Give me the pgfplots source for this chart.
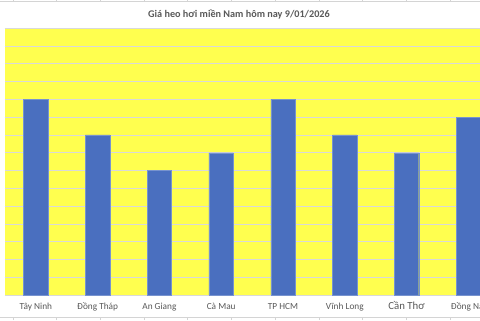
\documentclass[border=0pt]{standalone}
\usepackage{pgfplots}
\pgfplotsset{compat=1.18}
\usepackage{fontspec}
\setmainfont{Carlito}
\definecolor{plotyellow}{HTML}{FFFF4F}
\definecolor{barblue}{HTML}{4A6FBF}
\definecolor{gridgray}{HTML}{D9D9D9}
\definecolor{textgray}{HTML}{595959}
\definecolor{cellgray}{HTML}{D4D4D4}
\begin{document}
\begin{tikzpicture}[x=1bp,y=1bp]
\clip (0,0) rectangle (480,320);
\fill[white] (0,0) rectangle (480,320);
% worksheet cell borders around the chart object
\draw[cellgray, line width=0.6bp] (0,318.3) -- (480,318.3);
\draw[cellgray, line width=0.6bp] (0,2.7) -- (480,2.7);
\foreach \cx in {13.3,56.7,100,144,187.7,231.7,275.3,319,362.7,406.7,450}{
  \draw[cellgray, line width=0.6bp] (\cx,318.3) -- (\cx,320);
  \draw[cellgray, line width=0.6bp] (\cx,0) -- (\cx,2.7);
}
\node[text=textgray, font=\fontsize{10.2bp}{12bp}\selectfont\bfseries] at (239,305.5) {Giá heo hơi miền Nam hôm nay 9/01/2026};
\begin{axis}[
  at={(5bp,25bp)}, anchor=south west,
  scale only axis, width=475bp, height=266.7bp,
  xmin=-0.5, xmax=7.19,
  ymin=55, ymax=70,
  ytick={55,56,...,70}, yticklabels={},
  xtick={0,...,7},
  xticklabels={Tây Ninh, Đồng Tháp, An Giang, Cà Mau, TP HCM, Vĩnh Long, {\fontsize{10.8bp}{12bp}\selectfont Cần Thơ}, Đồng Nai},
  major tick length=0pt,
  ymajorgrids, grid style={gridgray, line width=0.75bp},
  axis line style={draw=none},
  axis background/.style={fill=plotyellow},
  xticklabel style={text=textgray, font=\fontsize{9.3bp}{11bp}\selectfont, anchor=center, text height=1.6ex, text depth=0.4ex, yshift=-11.4bp},
  ybar, bar width=24.4bp,
  clip=true,
]
\addplot[fill=barblue, draw=barblue!75!white, line width=0.4bp] coordinates {
  (0,66) (1,64) (2,62) (3,63) (4,66) (5,64) (6,63) (7,65)
};
\end{axis}
\end{tikzpicture}
\end{document}
